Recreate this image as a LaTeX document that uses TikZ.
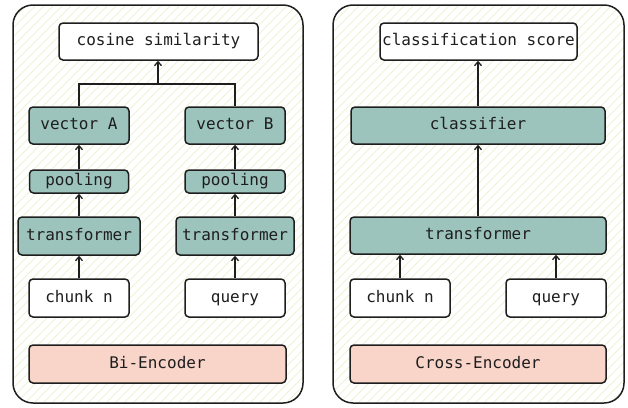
\documentclass[tikz,border=0pt]{standalone}
\usepackage{fontspec}
\setmonofont{DejaVu Sans Mono}
\usetikzlibrary{arrows.meta}
\definecolor{tealfill}{HTML}{9CC4BD}
\definecolor{pinkfill}{HTML}{F9D4C8}
\definecolor{hatch}{HTML}{EEF3D6}
\definecolor{ink}{HTML}{1E1E1E}
\tikzset{
  box/.style={draw=ink, line width=1.5pt, rounded corners=4pt, fill=white, inner sep=0pt,
    font=\ttfamily\fontsize{16}{18}\selectfont, text=ink, text height=11pt, text depth=2.5pt},
  tbox/.style={box, fill=tealfill},
  pbox/.style={box, fill=pinkfill},
  panel/.style={draw=ink, line width=1.5pt, rounded corners=20pt},
  conn/.style={draw=ink, line width=1.3pt},
  arr/.style={conn, -{Straight Barb[length=4pt,width=7pt,line width=1.3pt]}}
}
\begin{document}
\begin{tikzpicture}[x=1pt,y=-1pt]
\useasboundingbox (0,0) rectangle (628,407);
% panels with hatch
\foreach \px/\pw in {13/290, 333/291}{
  \begin{scope}
    \clip[rounded corners=20pt] (\px,5) rectangle (\px+\pw,403);
    \foreach \i in {-420,-411,...,640}{
      \draw[hatch, line width=0.9pt] (\i,407) -- (\i+407,0);
    }
  \end{scope}
  \draw[panel] (\px,5) rectangle (\px+\pw,403);
}
% left panel
\node[box, minimum width=199pt, minimum height=37pt] (cos) at (158.5,41.5) {cosine similarity};
\node[tbox, minimum width=100pt, minimum height=37pt] (vA) at (79,125.5) {vector A};
\node[tbox, minimum width=100pt, minimum height=37pt] (vB) at (235,125.5) {vector B};
\node[tbox, minimum width=99pt, minimum height=23pt] (pA) at (79,181.5) {pooling};
\node[tbox, minimum width=100pt, minimum height=23pt] (pB) at (235,181.5) {pooling};
\node[tbox, minimum width=122pt, minimum height=38pt] (tA) at (79,236) {transformer};
\node[tbox, minimum width=118pt, minimum height=38pt] (tB) at (235,236) {transformer};
\node[box, minimum width=100pt, minimum height=38pt] (cA) at (79,298) {chunk n};
\node[box, minimum width=100pt, minimum height=38pt] (qA) at (235,298) {query};
\node[pbox, minimum width=257pt, minimum height=38pt] (bi) at (157.5,364) {Bi-Encoder};
\coordinate (jn) at (158,84);
\draw[arr] (cA.north) -- (cA.north |- tA.south);
\draw[arr] (qA.north) -- (qA.north |- tB.south);
\draw[arr] (tA.north) -- (tA.north |- pA.south);
\draw[arr] (tB.north) -- (tB.north |- pB.south);
\draw[arr] (pA.north) -- (pA.north |- vA.south);
\draw[arr] (pB.north) -- (pB.north |- vB.south);
\draw[conn] (vA.north) -- (vA.north |- jn) -- (vB.north |- jn) -- (vB.north);
\draw[arr] (jn) -- (jn |- cos.south);
% right panel
\node[box, minimum width=197pt, minimum height=37pt] (cs) at (478.5,41.5) {classification score};
\node[tbox, minimum width=254pt, minimum height=37pt] (cl) at (478,125.5) {classifier};
\node[tbox, minimum width=256pt, minimum height=37pt] (tr) at (478,235.5) {transformer};
\node[box, minimum width=100pt, minimum height=38pt] (ch) at (400,298) {chunk n};
\node[box, minimum width=100pt, minimum height=38pt] (qr) at (556,298) {query};
\node[pbox, minimum width=256pt, minimum height=38pt] (ce) at (478,364) {Cross-Encoder};
\draw[arr] (ch.north) -- (ch.north |- tr.south);
\draw[arr] (qr.north) -- (qr.north |- tr.south);
\draw[arr] (tr.north) -- (tr.north |- cl.south);
\draw[arr] (cl.north) -- (cl.north |- cs.south);
\end{tikzpicture}
\end{document}
